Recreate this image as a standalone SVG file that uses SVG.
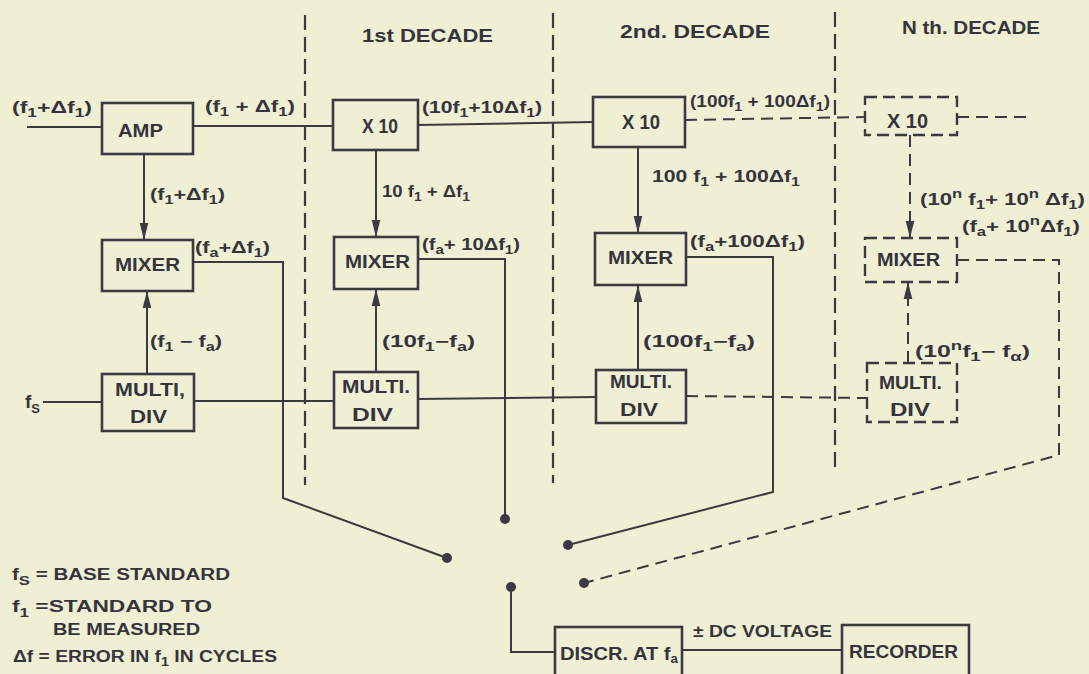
<svg xmlns="http://www.w3.org/2000/svg" width="1089" height="674" viewBox="0 0 1089 674">
<defs>
<style>
.bg{fill:#efefd3}
.box{fill:none;stroke:#3a3a44;stroke-width:2.6}
.dbox{fill:none;stroke:#3a3a44;stroke-width:2.4;stroke-dasharray:12 6}
.ln{fill:none;stroke:#3a3a44;stroke-width:2}
.dln{fill:none;stroke:#3a3a44;stroke-width:2;stroke-dasharray:12 7}
.bnd{fill:none;stroke:#3a3a44;stroke-width:2.2;stroke-dasharray:15 7}
.dot{fill:#3a3a44}
text{font-family:"Liberation Sans",Arial,sans-serif;font-weight:bold;fill:#34343e;font-size:16px}
.t{font-size:18px}
.b{font-size:18px}
.x{font-size:20px}
.s{font-size:12px}
</style>
<marker id="ah" markerUnits="userSpaceOnUse" markerWidth="18" markerHeight="10" refX="17" refY="5" orient="auto">
<path d="M0,0.7 L17,5 L0,9.3 z" fill="#3a3a44"/>
</marker>
</defs>
<rect class="bg" x="0" y="0" width="1089" height="674"/>

<g id="boundaries">
<path class="bnd" d="M305 15 V485"/>
<path class="bnd" d="M553 13 V483"/>
<path class="bnd" d="M835 12 V472"/>
</g>

<g id="titles">
<text class="t" x="362" y="42" textLength="131" lengthAdjust="spacingAndGlyphs">1st DECADE</text>
<text class="t" x="620" y="38" textLength="150" lengthAdjust="spacingAndGlyphs">2nd. DECADE</text>
<text class="t" x="902" y="34" textLength="138" lengthAdjust="spacingAndGlyphs">N th. DECADE</text>
</g>

<g id="connectors">
<path class="ln" d="M27 127 H102"/>
<path class="ln" d="M193 126 H333"/>
<path class="ln" d="M418 125 L593 122"/>
<path class="dln" d="M685 120 L865 117"/>
<path class="dln" d="M957 117 H1030"/>
<path class="ln" d="M144 154 V240" marker-end="url(#ah)"/>
<path class="ln" d="M376 150 V237" marker-end="url(#ah)"/>
<path class="ln" d="M638 147 V233" marker-end="url(#ah)"/>
<path class="dln" d="M910 135 V238" marker-end="url(#ah)"/>
<path class="ln" d="M147 374 V291" marker-end="url(#ah)"/>
<path class="ln" d="M376 372 V289" marker-end="url(#ah)"/>
<path class="ln" d="M638 370 V285" marker-end="url(#ah)"/>
<path class="dln" d="M908 363 V282" marker-end="url(#ah)"/>
<path class="ln" d="M43 402 H102"/>
<path class="ln" d="M194 401 H334"/>
<path class="ln" d="M418 399 L596 397"/>
<path class="dln" d="M686 396 L867 398"/>
<path class="ln" d="M193 262 H283 V498 L447 558"/>
<path class="ln" d="M418 259 H505 V519"/>
<path class="ln" d="M686 257 H773 V492 L568 545"/>
<path class="dln" d="M957 260 H1059 V455 L584 583"/>
<path class="ln" d="M511 587 V652 H555"/>
<path class="ln" d="M682 650 H842"/>
<circle class="dot" cx="447" cy="558" r="5"/>
<circle class="dot" cx="505" cy="519" r="5"/>
<circle class="dot" cx="568" cy="545" r="5"/>
<circle class="dot" cx="584" cy="583" r="5"/>
<circle class="dot" cx="511" cy="587" r="5"/>
</g>

<g id="amp"><rect class="box" x="102" y="103" width="91" height="51"/>
<text class="b" x="118" y="137" textLength="45" lengthAdjust="spacingAndGlyphs">AMP</text></g>
<g id="x10-1"><rect class="box" x="333" y="100" width="85" height="50"/>
<text class="x" x="362" y="133" textLength="36" lengthAdjust="spacingAndGlyphs">X 10</text></g>
<g id="x10-2"><rect class="box" x="593" y="97" width="92" height="50"/>
<text class="x" x="622" y="129" textLength="38" lengthAdjust="spacingAndGlyphs">X 10</text></g>
<g id="x10-n"><rect class="dbox" x="865" y="97" width="92" height="38"/>
<text class="x" x="887" y="128" textLength="41" lengthAdjust="spacingAndGlyphs">X 10</text></g>

<g id="mixer-0"><rect class="box" x="102" y="240" width="91" height="51"/>
<text class="b" x="115" y="271" textLength="65" lengthAdjust="spacingAndGlyphs">MIXER</text></g>
<g id="mixer-1"><rect class="box" x="334" y="237" width="84" height="52"/>
<text class="b" x="345" y="268" textLength="65" lengthAdjust="spacingAndGlyphs">MIXER</text></g>
<g id="mixer-2"><rect class="box" x="595" y="233" width="91" height="52"/>
<text class="b" x="608" y="264" textLength="65" lengthAdjust="spacingAndGlyphs">MIXER</text></g>
<g id="mixer-n"><rect class="dbox" x="865" y="238" width="92" height="44"/>
<text class="b" x="877" y="266" textLength="63" lengthAdjust="spacingAndGlyphs">MIXER</text></g>

<g id="multi-0"><rect class="box" x="102" y="374" width="92" height="57"/>
<text class="b" x="115" y="396" textLength="70" lengthAdjust="spacingAndGlyphs">MULTI,</text>
<text class="b" x="130" y="423" textLength="37" lengthAdjust="spacingAndGlyphs">DIV</text></g>
<g id="multi-1"><rect class="box" x="334" y="372" width="84" height="56"/>
<text class="b" x="342" y="393" textLength="68" lengthAdjust="spacingAndGlyphs">MULTI.</text>
<text class="b" x="352" y="421" textLength="41" lengthAdjust="spacingAndGlyphs">DIV</text></g>
<g id="multi-2"><rect class="box" x="596" y="370" width="90" height="53"/>
<text class="b" x="610" y="388" textLength="62" lengthAdjust="spacingAndGlyphs">MULTI.</text>
<text class="b" x="620" y="416" textLength="38" lengthAdjust="spacingAndGlyphs">DIV</text></g>
<g id="multi-n"><rect class="dbox" x="867" y="363" width="90" height="59"/>
<text class="b" x="879" y="389" textLength="63" lengthAdjust="spacingAndGlyphs">MULTI.</text>
<text class="b" x="890" y="416" textLength="40" lengthAdjust="spacingAndGlyphs">DIV</text></g>

<g id="discr"><rect class="box" x="555" y="627" width="127" height="60"/>
<text class="b" x="560" y="660" textLength="118" lengthAdjust="spacingAndGlyphs">DISCR. AT f<tspan class="s" dy="3">a</tspan></text></g>
<g id="recorder"><rect class="box" x="842" y="625" width="127" height="60"/>
<text class="b" x="849" y="658" textLength="109" lengthAdjust="spacingAndGlyphs">RECORDER</text></g>

<g id="labels">
<text x="12" y="113" textLength="80" lengthAdjust="spacingAndGlyphs">(f<tspan class="s" dy="4">1</tspan><tspan dy="-4">+Δf</tspan><tspan class="s" dy="4">1</tspan><tspan dy="-4">)</tspan></text>
<text x="205" y="112" textLength="90" lengthAdjust="spacingAndGlyphs">(f<tspan class="s" dy="4">1</tspan><tspan dy="-4"> + Δf</tspan><tspan class="s" dy="4">1</tspan><tspan dy="-4">)</tspan></text>
<text x="150" y="200" textLength="75" lengthAdjust="spacingAndGlyphs">(f<tspan class="s" dy="4">1</tspan><tspan dy="-4">+Δf</tspan><tspan class="s" dy="4">1</tspan><tspan dy="-4">)</tspan></text>
<text x="195" y="253" textLength="75" lengthAdjust="spacingAndGlyphs">(f<tspan class="s" dy="4">a</tspan><tspan dy="-4">+Δf</tspan><tspan class="s" dy="4">1</tspan><tspan dy="-4">)</tspan></text>
<text x="150" y="347" textLength="72" lengthAdjust="spacingAndGlyphs">(f<tspan class="s" dy="4">1</tspan><tspan dy="-4"> − f</tspan><tspan class="s" dy="4">a</tspan><tspan dy="-4">)</tspan></text>
<text x="25" y="408" style="font-size:19px">f<tspan class="s" dy="5" style="font-size:13px">S</tspan></text>
<text x="422" y="113" textLength="120" lengthAdjust="spacingAndGlyphs">(10f<tspan class="s" dy="4">1</tspan><tspan dy="-4">+10Δf</tspan><tspan class="s" dy="4">1</tspan><tspan dy="-4">)</tspan></text>
<text x="382" y="197" textLength="88" lengthAdjust="spacingAndGlyphs">10 f<tspan class="s" dy="4">1</tspan><tspan dy="-4"> + Δf</tspan><tspan class="s" dy="4">1</tspan></text>
<text x="422" y="250" textLength="98" lengthAdjust="spacingAndGlyphs">(f<tspan class="s" dy="4">a</tspan><tspan dy="-4">+ 10Δf</tspan><tspan class="s" dy="4">1</tspan><tspan dy="-4">)</tspan></text>
<text x="382" y="347" textLength="93" lengthAdjust="spacingAndGlyphs">(10f<tspan class="s" dy="4">1</tspan><tspan dy="-4">−f</tspan><tspan class="s" dy="4">a</tspan><tspan dy="-4">)</tspan></text>
<text x="690" y="107" textLength="140" lengthAdjust="spacingAndGlyphs">(100f<tspan class="s" dy="4">1</tspan><tspan dy="-4"> + 100Δf</tspan><tspan class="s" dy="4">1</tspan><tspan dy="-4">)</tspan></text>
<text x="652" y="182" textLength="148" lengthAdjust="spacingAndGlyphs">100 f<tspan class="s" dy="4">1</tspan><tspan dy="-4"> + 100Δf</tspan><tspan class="s" dy="4">1</tspan></text>
<text x="690" y="247" textLength="115" lengthAdjust="spacingAndGlyphs">(f<tspan class="s" dy="4">a</tspan><tspan dy="-4">+100Δf</tspan><tspan class="s" dy="4">1</tspan><tspan dy="-4">)</tspan></text>
<text x="643" y="347" textLength="112" lengthAdjust="spacingAndGlyphs">(100f<tspan class="s" dy="4">1</tspan><tspan dy="-4">−f</tspan><tspan class="s" dy="4">a</tspan><tspan dy="-4">)</tspan></text>
<text x="920" y="205" textLength="165" lengthAdjust="spacingAndGlyphs">(10<tspan class="s" dy="-7">n</tspan><tspan dy="7"> f</tspan><tspan class="s" dy="4">1</tspan><tspan dy="-4">+ 10</tspan><tspan class="s" dy="-7">n</tspan><tspan dy="7"> Δf</tspan><tspan class="s" dy="4">1</tspan><tspan dy="-4">)</tspan></text>
<text x="962" y="232" textLength="118" lengthAdjust="spacingAndGlyphs">(f<tspan class="s" dy="4">a</tspan><tspan dy="-4">+ 10</tspan><tspan class="s" dy="-7">n</tspan><tspan dy="7">Δf</tspan><tspan class="s" dy="4">1</tspan><tspan dy="-4">)</tspan></text>
<text x="915" y="357" textLength="115" lengthAdjust="spacingAndGlyphs">(10<tspan class="s" dy="-7">n</tspan><tspan dy="7">f</tspan><tspan class="s" dy="4">1</tspan><tspan dy="-4">− f</tspan><tspan class="s" dy="4">α</tspan><tspan dy="-4">)</tspan></text>
<text x="693" y="637" textLength="139" lengthAdjust="spacingAndGlyphs">± DC VOLTAGE</text>
</g>

<g id="legend">
<text x="12" y="580" textLength="218" lengthAdjust="spacingAndGlyphs">f<tspan class="s" dy="5" style="font-size:13px">S</tspan><tspan dy="-5"> = BASE STANDARD</tspan></text>
<text x="12" y="612" textLength="200" lengthAdjust="spacingAndGlyphs">f<tspan class="s" dy="5">1</tspan><tspan dy="-5">  =STANDARD TO</tspan></text>
<text x="53" y="635" textLength="147" lengthAdjust="spacingAndGlyphs">BE MEASURED</text>
<text x="13" y="662" textLength="264" lengthAdjust="spacingAndGlyphs">Δf = ERROR IN f<tspan class="s" dy="4">1</tspan><tspan dy="-4"> IN CYCLES</tspan></text>
</g>
</svg>
